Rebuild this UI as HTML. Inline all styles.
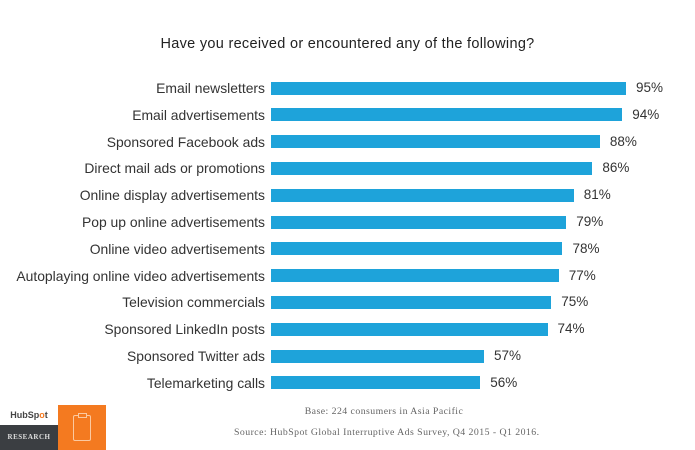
<!DOCTYPE html>
<html><head><meta charset="utf-8"><style>
body{margin:0;width:695px;height:450px;background:#fff;font-family:"Liberation Sans",sans-serif;position:relative;overflow:hidden}
.t{position:absolute;top:36px;left:0;width:695px;text-align:center;font-size:14.5px;color:#222;letter-spacing:0.3px}
.l{position:absolute;right:430px;font-size:13.9px;color:#333;white-space:nowrap;line-height:14px}
.b{position:absolute;left:271px;height:13px;background:#1ea3da}
.v{position:absolute;font-size:13.5px;color:#333;line-height:14px}
.f{position:absolute;left:234px;width:300px;text-align:center;font-family:"Liberation Serif",serif;font-size:9.8px;color:#666;letter-spacing:0.45px;white-space:nowrap}
</style></head><body>
<div class="t">Have you received or encountered any of the following?</div>
<div id="c"></div>
<div class="f" style="top:406px">Base: 224 consumers in Asia Pacific</div>
<div class="f" style="top:427px">Source: HubSpot Global Interruptive Ads Survey, Q4 2015 - Q1 2016.</div>
<div style="position:absolute;left:0;top:405px;width:58px;height:20px;font-size:9px;font-weight:bold;color:#444;text-align:center;line-height:20px">HubSp<span style="color:#f47a20">o</span>t</div>
<div style="position:absolute;left:0;top:425px;width:58px;height:25px;background:#3b3e42;color:#ddd;font-family:'Liberation Serif',serif;font-size:7px;font-weight:bold;text-align:center;line-height:25px;letter-spacing:0.5px">RESEARCH</div>
<div style="position:absolute;left:58px;top:405px;width:48px;height:45px;background:#f47a20">
<div style="position:absolute;left:15px;top:10px;width:16px;height:24px;border:1px solid #fbc9a0;border-radius:2px"></div>
<div style="position:absolute;left:20px;top:8px;width:7px;height:3px;border:1px solid #fbc9a0;background:#f47a20"></div>
</div>
<script>
var d=[["Email newsletters",95],["Email advertisements",94],["Sponsored Facebook ads",88],["Direct mail ads or promotions",86],["Online display advertisements",81],["Pop up online advertisements",79],["Online video advertisements",78],["Autoplaying online video advertisements",77],["Television commercials",75],["Sponsored LinkedIn posts",74],["Sponsored Twitter ads",57],["Telemarketing calls",56]];
var h="";d.forEach(function(r,i){var y=88+i*26.8,w=r[1]*3.737;
h+='<div class="l" style="top:'+(y-7)+'px">'+r[0]+'</div><div class="b" style="top:'+(y-6.5)+'px;width:'+w+'px"></div><div class="v" style="top:'+(y-7)+'px;left:'+(271+w+10)+'px">'+r[1]+'%</div>';});
document.getElementById("c").innerHTML=h;
</script>
</body></html>
